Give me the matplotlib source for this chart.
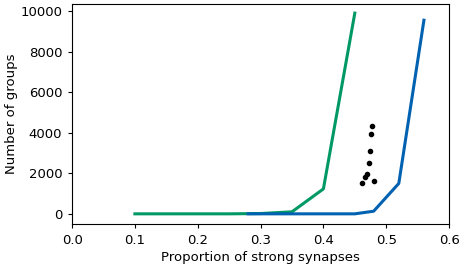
import numpy as np
from matplotlib import pyplot as plt

green_x = [0.1, 0.15, 0.2, 0.25, 0.3, 0.35, 0.4, 0.45]
green_y = [0, 0, 0, 0, 15, 100, 1230, 9900]
blue_x = [0.28, 0.3, 0.35, 0.4, 0.45, 0.48, 0.52, 0.56]
blue_y = [0, 0, 0, 0, 0, 130, 1500, 9550]
dots_x = [0.477, 0.476, 0.474, 0.473, 0.470, 0.466, 0.461, 0.480]
dots_y = [4320, 3925, 3085, 2510, 1945, 1830, 1500, 1600]


def plot_groups():
    plt.rcParams['font.size'] = 9.5
    fig, ax = plt.subplots(figsize=(4.62, 2.66), dpi=100)
    ax.plot(green_x, green_y, color='#009966', lw=2.2)
    ax.plot(blue_x, blue_y, color='#0062B0', lw=2.2)
    ax.scatter(dots_x, dots_y, color='black', s=9, zorder=3)
    ax.set_xlim(0.0, 0.6)
    ax.set_ylim(-500, 10350)
    ax.set_xticks(np.arange(0.0, 0.61, 0.1))
    ax.set_yticks([0, 2000, 4000, 6000, 8000, 10000])
    ax.tick_params(length=3, pad=4)
    ax.set_xlabel('Proportion of strong synapses', labelpad=3)
    ax.set_ylabel('Number of groups', labelpad=2)
    fig.subplots_adjust(left=0.156, right=0.972, top=0.985, bottom=0.158)
    fig.savefig('out.png', dpi=100)


if __name__ == '__main__':
    plot_groups()
